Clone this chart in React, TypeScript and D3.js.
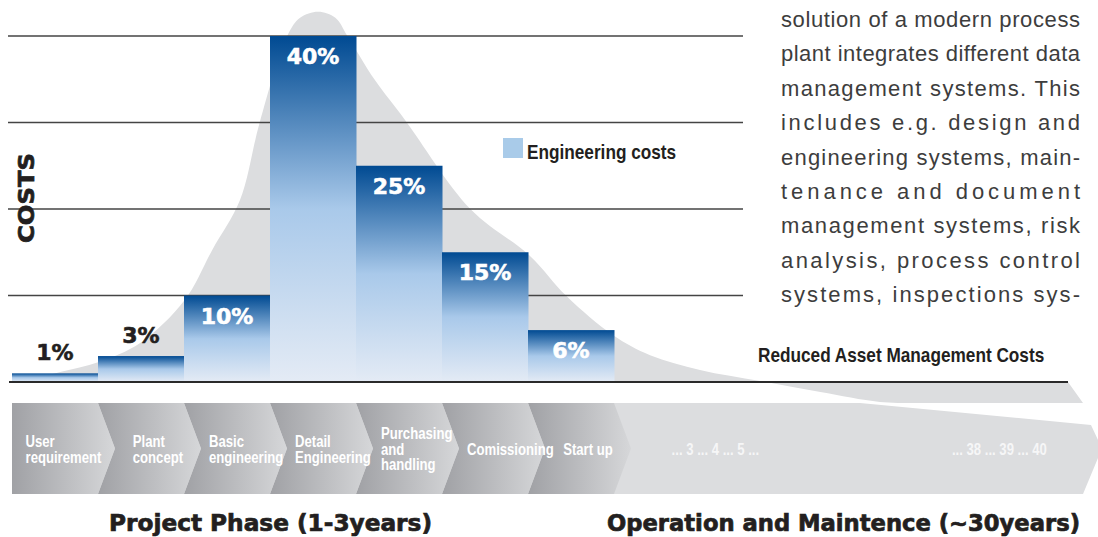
import React, { useEffect, useRef } from "react";
import * as d3 from "d3";

// ---------- data ----------
const phases = [
  "User requirement",
  "Plant concept",
  "Basic engineering",
  "Detail Engineering",
  "Purchasing and handling",
  "Comissioning",
  "Start up",
];
const phaseLabelLines = [
  ["User", "requirement"],
  ["Plant", "concept"],
  ["Basic", "engineering"],
  ["Detail", "Engineering"],
  ["Purchasing", "and", "handling"],
  ["Comissioning"],
  ["Start up"],
];
const costShare = [1, 3, 10, 40, 25, 15, 6];
const costLabels = ["1%", "3%", "10%", "40%", "25%", "15%", "6%"];
const gridTicks = [10, 20, 30, 40];
const operationYears = ["... 3 ... 4 ... 5 ...", "... 38 ... 39 ... 40"];
const operationYearPos = [7.67, 10.93]; // in phase-index units
// lifecycle cost curve in (phase index, % cost) units
const lifecycleCurve: [number, number][] = [
  [0.09, 0], [0.56, 1.16], [1.01, 2.31], [1.49, 4.5], [2.01, 9.5],
  [2.33, 15.3], [2.65, 21], [2.88, 30], [3.2, 40], [3.35, 42.1],
  [3.56, 42.8], [3.76, 42.1], [3.9, 40], [4.22, 34.9], [4.57, 30.3],
  [5.33, 20], [6.02, 14.6], [6.45, 9.9], [6.99, 5.4], [7.42, 3.1],
  [8.0, 1.4], [8.7, 0.12], [9.4, -1.16], [10.09, -2.3], [10.56, -2.43],
];
const paragraphLines = [
  "solution of a modern process",
  "plant integrates different data",
  "management systems. This",
  "includes e.g. design and",
  "engineering systems, main-",
  "tenance and document",
  "management systems, risk",
  "analysis, process control",
  "systems, inspections sys-",
];
const legendLabel = "Engineering costs";
const yAxisTitle = "COSTS";
const reducedLabel = "Reduced Asset Management Costs";
const projectTitle = "Project Phase (1-3years)";
const operationTitle = "Operation and Maintence (~30years)";

const W = 1098;
const H = 537;
const SANS = "'Liberation Sans', Arial, sans-serif";
const HEAVY = "'DejaVu Sans', sans-serif";
const NARROW_SCALE = 0.82;

export default function App() {
  const ref = useRef<SVGSVGElement | null>(null);

  useEffect(() => {
    const svg = d3.select(ref.current!);
    svg.selectAll("*").remove();

    // condensed bold text helper (horizontal squeeze of Liberation Sans Bold)
    const narrow = (
      parent: d3.Selection<any, any, any, any>,
      x: number,
      yy: number,
      str: string,
      size: number,
      fill: string
    ) => {
      const g = parent
        .append("g")
        .attr("transform", `translate(${x},${yy}) scale(${NARROW_SCALE},1)`);
      g.append("text")
        .attr("font-family", SANS)
        .attr("font-weight", "bold")
        .attr("font-size", size)
        .attr("fill", fill)
        .text(str);
      return g;
    };

    const x = d3.scaleBand<string>().domain(phases).range([12, 614]).padding(0);
    const bw = x.bandwidth();
    const xi = d3.scaleLinear().domain([0, phases.length]).range([12, 614]);
    const y = d3.scaleLinear().domain([0, 40]).range([382, 36]);
    const baseY = y(0);
    const rowTop = 403;
    const rowBot = 494;
    const rowMid = (rowTop + rowBot) / 2;
    const notch = 17;

    const defs = svg.append("defs");
    const bg = defs
      .append("linearGradient")
      .attr("id", "barGrad")
      .attr("x1", 0).attr("y1", 0).attr("x2", 0).attr("y2", 1);
    bg.append("stop").attr("offset", 0).attr("stop-color", "#004a92");
    bg.append("stop").attr("offset", 0.5).attr("stop-color", "#a9c9ea");
    bg.append("stop").attr("offset", 1).attr("stop-color", "#e4ebf5");
    const cg = defs
      .append("linearGradient")
      .attr("id", "chevGrad")
      .attr("x1", 0).attr("y1", 0).attr("x2", 1).attr("y2", 0);
    cg.append("stop").attr("offset", 0).attr("stop-color", "#a0a1a5");
    cg.append("stop").attr("offset", 1).attr("stop-color", "#d6d7d9");

    // ---- lifecycle bell curve ----
    const pts = lifecycleCurve.map(([a, b]) => [xi(a), y(b)] as [number, number]);
    const curveStr = d3.line().curve(d3.curveCatmullRom.alpha(0.5))(pts)!;
    const last = pts[pts.length - 1];
    const bellPath =
      curveStr + `L${1083},${last[1]}L${1068},${baseY}L${pts[0][0]},${baseY}Z`;
    svg.append("path").attr("d", bellPath).attr("fill", "#dcdddf");

    // ---- gridlines ----
    svg
      .append("g")
      .selectAll("line")
      .data(gridTicks)
      .join("line")
      .attr("x1", 8)
      .attr("x2", 743)
      .attr("y1", (d) => y(d))
      .attr("y2", (d) => y(d))
      .attr("stroke", "#444")
      .attr("stroke-width", 1.3);

    // ---- bars ----
    svg
      .append("g")
      .selectAll("rect")
      .data(costShare)
      .join("rect")
      .attr("x", (_, i) => x(phases[i])!)
      .attr("width", bw + 0.5)
      .attr("y", (d) => y(d))
      .attr("height", (d) => baseY - y(d))
      .attr("fill", "url(#barGrad)");

    svg
      .append("g")
      .selectAll("text")
      .data(costShare)
      .join("text")
      .attr("x", (_, i) => x(phases[i])! + bw / 2)
      .attr("y", (d) => (d >= 6 ? y(d) + 28 : y(d) - 13))
      .attr("text-anchor", "middle")
      .attr("font-family", HEAVY)
      .attr("font-weight", "bold")
      .attr("font-size", 22)
      .attr("fill", (d) => (d >= 6 ? "#ffffff" : "#231f20"))
      .attr("stroke", (d) => (d >= 6 ? "#ffffff" : "#231f20"))
      .attr("stroke-width", 0.6)
      .text((_, i) => costLabels[i]);

    // ---- legend ----
    svg.append("rect").attr("x", 503).attr("y", 138).attr("width", 20).attr("height", 20).attr("fill", "#a9cbe9");
    narrow(svg, 527, 159, legendLabel, 21, "#231f20");

    // ---- y title ----
    svg
      .append("text")
      .attr("transform", `translate(34,198) rotate(-90)`)
      .attr("text-anchor", "middle")
      .attr("font-family", HEAVY)
      .attr("font-weight", "bold")
      .attr("font-size", 22)
      .attr("textLength", 90)
      .attr("lengthAdjust", "spacingAndGlyphs")
      .attr("fill", "#231f20")
      .attr("stroke", "#231f20")
      .attr("stroke-width", 0.7)
      .text(yAxisTitle);

    // ---- operation arrow ----
    svg
      .append("path")
      .attr(
        "d",
        `M600,${rowTop}L860,${rowTop}L1091,425L1102,${rowMid}L1083,${rowBot}L600,${rowBot}Z`
      )
      .attr("fill", "#dcdddf");

    // ---- chevrons ----
    const chev = svg.append("g");
    phases.forEach((p, i) => {
      const x0 = x(p)!;
      const x1 = x0 + bw;
      const d =
        i === 0
          ? `M${x0},${rowTop}L${x1},${rowTop}L${x1 + notch},${rowMid}L${x1},${rowBot}L${x0},${rowBot}Z`
          : `M${x0},${rowTop}L${x1},${rowTop}L${x1 + notch},${rowMid}L${x1},${rowBot}L${x0},${rowBot}L${x0 + notch},${rowMid}Z`;
      chev.append("path").attr("d", d).attr("fill", "url(#chevGrad)");
    });

    const lineH = 15.5;
    phases.forEach((p, i) => {
      const lines = phaseLabelLines[i];
      const x0 = x(p)!;
      const left = i === 0 ? x0 : x0 + notch;
      const right = x0 + bw + notch;
      const center = (left + right) / 2;
      const g = chev.append("g");
      const inner = g.append("g").attr("transform", `scale(${NARROW_SCALE},1)`);
      const t = inner
        .append("text")
        .attr("font-family", SANS)
        .attr("font-weight", "bold")
        .attr("font-size", 16)
        .attr("fill", "#ffffff");
      lines.forEach((ln, k) => {
        t.append("tspan")
          .attr("x", 0)
          .attr("y", 455 - ((lines.length - 1) * lineH) / 2 + k * lineH)
          .text(ln);
      });
      const w = (t.node() as SVGTextElement).getBBox().width * NARROW_SCALE;
      const lx = Math.max(center - w / 2, left + 8);
      g.attr("transform", `translate(${lx},0)`);
    });

    operationYears.forEach((s, i) => {
      narrow(svg, xi(operationYearPos[i]), 455, s, 16, "#f6f6f7");
    });

    // ---- baseline ----
    svg
      .append("line")
      .attr("x1", 9)
      .attr("x2", 1068)
      .attr("y1", baseY)
      .attr("y2", baseY)
      .attr("stroke", "#2a2a2a")
      .attr("stroke-width", 2);

    // ---- right paragraph ----
    svg
      .append("g")
      .selectAll("text")
      .data(paragraphLines)
      .join("text")
      .attr("x", 781)
      .attr("y", (_, i) => 27 + i * 34.4)
      .attr("font-family", SANS)
      .attr("font-size", 22)
      .attr("fill", "#3d3d3d")
      .attr("textLength", 299)
      .attr("lengthAdjust", "spacing")
      .text((d) => d);

    narrow(svg, 758, 362, reducedLabel, 21, "#231f20");

    // ---- bottom titles ----
    const titleStyle = (sel: d3.Selection<SVGTextElement, any, any, any>) =>
      sel
        .attr("font-family", HEAVY)
        .attr("font-weight", "bold")
        .attr("font-size", 22.5)
        .attr("lengthAdjust", "spacingAndGlyphs")
        .attr("fill", "#231f20")
        .attr("stroke", "#231f20")
        .attr("stroke-width", 0.7);
    titleStyle(svg.append("text"))
      .attr("x", 109)
      .attr("y", 531)
      .attr("textLength", 323)
      .text(projectTitle);
    titleStyle(svg.append("text"))
      .attr("x", 607)
      .attr("y", 531)
      .attr("textLength", 473)
      .text(operationTitle);
  }, []);

  return (
    <svg
      ref={ref}
      width={W}
      height={H}
      style={{ position: "absolute", left: 0, top: 0, display: "block", background: "#ffffff" }}
    />
  );
}
